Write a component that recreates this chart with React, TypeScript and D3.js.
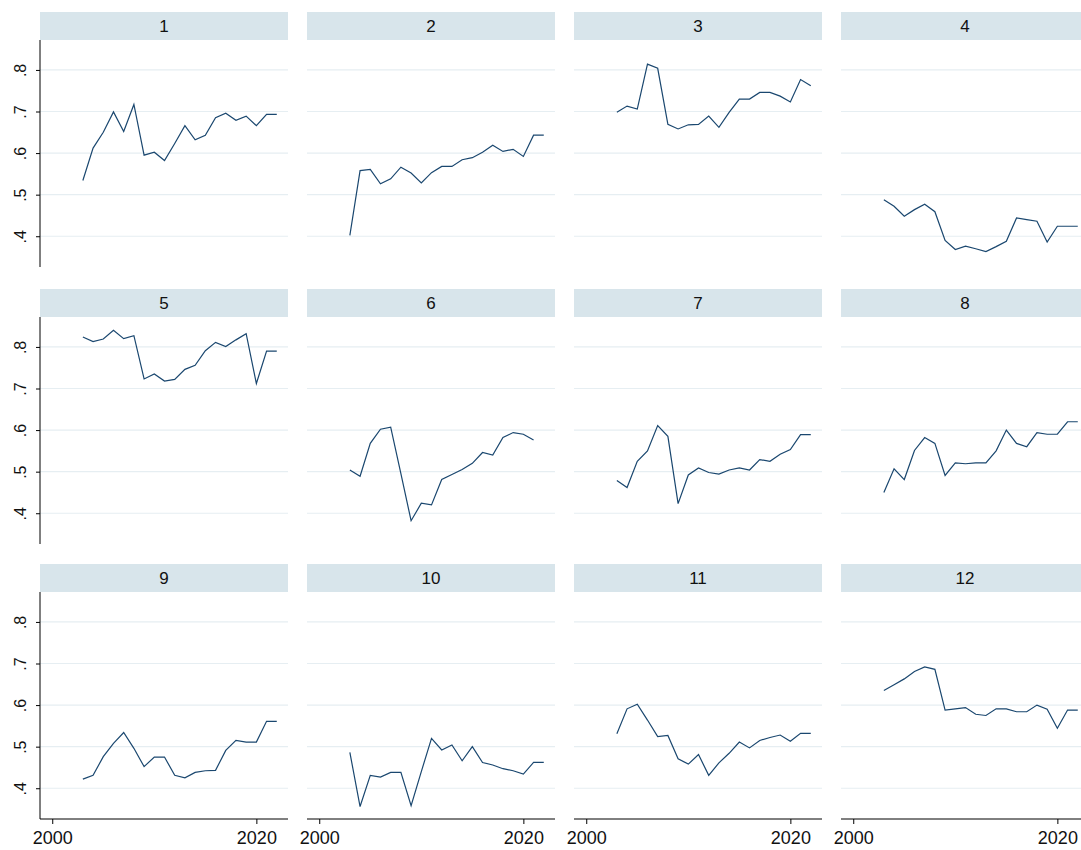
import React, { useEffect, useRef } from "react";
import * as d3 from "d3";

const years = [
  2003, 2004, 2005, 2006, 2007, 2008, 2009, 2010, 2011, 2012,
  2013, 2014, 2015, 2016, 2017, 2018, 2019, 2020, 2021, 2022,
];

const panelLabels = ["1", "2", "3", "4", "5", "6", "7", "8", "9", "10", "11", "12"];

const s1 = [0.534, 0.612, 0.65, 0.699, 0.652, 0.717, 0.595, 0.602, 0.582, 0.623, 0.666, 0.632, 0.643, 0.685, 0.696, 0.679, 0.689, 0.666, 0.693, 0.693];
const s2 = [0.402, 0.558, 0.561, 0.526, 0.538, 0.566, 0.552, 0.528, 0.553, 0.568, 0.568, 0.584, 0.589, 0.602, 0.619, 0.604, 0.609, 0.592, 0.643, 0.643];
const s3 = [0.698, 0.713, 0.706, 0.814, 0.804, 0.669, 0.658, 0.668, 0.669, 0.689, 0.662, 0.698, 0.73, 0.73, 0.746, 0.746, 0.737, 0.723, 0.777, 0.762];
const s4 = [0.488, 0.472, 0.448, 0.464, 0.477, 0.459, 0.39, 0.368, 0.376, 0.37, 0.363, 0.375, 0.388, 0.444, 0.44, 0.436, 0.386, 0.424, 0.424, 0.424];
const s5 = [0.824, 0.813, 0.819, 0.84, 0.82, 0.827, 0.723, 0.735, 0.718, 0.722, 0.746, 0.756, 0.791, 0.811, 0.801, 0.817, 0.832, 0.712, 0.79, 0.79];
const s6 = [0.504, 0.489, 0.568, 0.602, 0.607, 0.495, 0.382, 0.424, 0.42, 0.481, 0.493, 0.505, 0.52, 0.546, 0.54, 0.582, 0.594, 0.59, 0.576, null];
const s7 = [0.479, 0.462, 0.525, 0.55, 0.611, 0.585, 0.423, 0.492, 0.509, 0.498, 0.494, 0.504, 0.509, 0.504, 0.529, 0.525, 0.542, 0.553, 0.589, 0.589];
const s8 = [0.45, 0.507, 0.481, 0.551, 0.582, 0.568, 0.491, 0.521, 0.519, 0.521, 0.521, 0.55, 0.6, 0.568, 0.56, 0.594, 0.59, 0.59, 0.62, 0.62];
const s9 = [0.422, 0.431, 0.476, 0.508, 0.534, 0.496, 0.452, 0.475, 0.475, 0.431, 0.425, 0.438, 0.442, 0.443, 0.491, 0.515, 0.511, 0.511, 0.561, 0.561];
const s10 = [0.486, 0.356, 0.431, 0.427, 0.438, 0.438, 0.358, 0.44, 0.52, 0.492, 0.504, 0.466, 0.5, 0.462, 0.456, 0.447, 0.442, 0.434, 0.462, 0.462];
const s11 = [0.531, 0.591, 0.602, 0.564, 0.524, 0.527, 0.471, 0.458, 0.481, 0.431, 0.461, 0.484, 0.511, 0.497, 0.515, 0.522, 0.528, 0.513, 0.532, 0.532];
const s12 = [0.635, 0.649, 0.663, 0.681, 0.692, 0.686, 0.588, 0.591, 0.594, 0.578, 0.575, 0.591, 0.591, 0.584, 0.584, 0.6, 0.59, 0.544, 0.588, 0.588];

const series = [s1, s2, s3, s4, s5, s6, s7, s8, s9, s10, s11, s12];

const yTicks = [0.4, 0.5, 0.6, 0.7, 0.8];
const yTickLabels = [".4", ".5", ".6", ".7", ".8"];
const xTicks = [2000, 2020];

function App() {
  const ref = useRef(null);

  useEffect(() => {
    const width = 1081;
    const height = 850;
    const colLeft = [40, 307, 574, 841];
    const rowTop = [12, 289, 564];
    const stripH = 28;
    const plotW = 248;
    const plotH = 227;
    const font = "'Liberation Sans', Arial, sans-serif";

    d3.select(ref.current).select("svg").remove();

    const svg = d3
      .select(ref.current)
      .append("svg")
      .attr("width", width)
      .attr("height", height)
      .style("position", "absolute")
      .style("left", "0px")
      .style("top", "0px")
      .style("background", "#ffffff");

    const x = d3.scaleLinear().domain([1998.8, 2023.1]).range([0, plotW]);
    const y = d3.scaleLinear().domain([0.326, 0.872]).range([plotH, 0]);

    const line = d3
      .line()
      .defined((d) => d[1] != null)
      .x((d) => x(d[0]))
      .y((d) => y(d[1]));

    series.forEach((vals, i) => {
      const col = i % 4;
      const row = Math.floor(i / 4);
      const g = svg
        .append("g")
        .attr("transform", `translate(${colLeft[col]}, ${rowTop[row]})`);

      // strip header
      g.append("rect")
        .attr("x", 0)
        .attr("y", 0)
        .attr("width", plotW)
        .attr("height", stripH)
        .attr("fill", "#d8e5eb");

      g.append("text")
        .attr("x", plotW / 2)
        .attr("y", stripH / 2 + 6)
        .attr("text-anchor", "middle")
        .style("font-family", font)
        .style("font-size", "17px")
        .attr("fill", "#111")
        .text(panelLabels[i]);

      const plot = g.append("g").attr("transform", `translate(0, ${stripH})`);

      // gridlines
      plot
        .selectAll("line.grid")
        .data(yTicks)
        .enter()
        .append("line")
        .attr("x1", 0)
        .attr("x2", plotW)
        .attr("y1", (d) => y(d))
        .attr("y2", (d) => y(d))
        .attr("stroke", "#e6eef2")
        .attr("stroke-width", 1.2);

      const pts = years.map((yr, j) => [yr, vals[j]]);
      plot
        .append("path")
        .datum(pts)
        .attr("d", line)
        .attr("fill", "none")
        .attr("stroke", "#1a476f")
        .attr("stroke-width", 1.2);

      if (col === 0) {
        const ya = plot
          .append("g")
          .call(
            d3
              .axisLeft(y)
              .tickValues(yTicks)
              .tickSize(4)
              .tickFormat((d, k) => yTickLabels[k])
          );
        ya.select(".domain").attr("d", `M0,0V${plotH}`).attr("stroke", "#000");
        ya.selectAll(".tick line").attr("stroke", "#000");
        ya.selectAll(".tick text")
          .attr("transform", "rotate(-90)")
          .attr("x", 0)
          .attr("y", -14)
          .attr("dy", 0)
          .attr("text-anchor", "middle")
          .style("font-family", font)
          .style("font-size", "16px")
          .attr("fill", "#111");
      }

      if (row === 2) {
        const xa = plot
          .append("g")
          .attr("transform", `translate(0, ${plotH})`)
          .call(d3.axisBottom(x).tickValues(xTicks).tickSize(5).tickFormat(d3.format("d")));
        xa.select(".domain").attr("d", `M0,0H${plotW}`).attr("stroke", "#000");
        xa.selectAll(".tick line").attr("stroke", "#000");
        xa.selectAll(".tick text")
          .attr("y", 9)
          .attr("dy", "0.9em")
          .style("font-family", font)
          .style("font-size", "18px")
          .attr("fill", "#111");
      }
    });
  }, []);

  return <div ref={ref}></div>;
}

export default App;
